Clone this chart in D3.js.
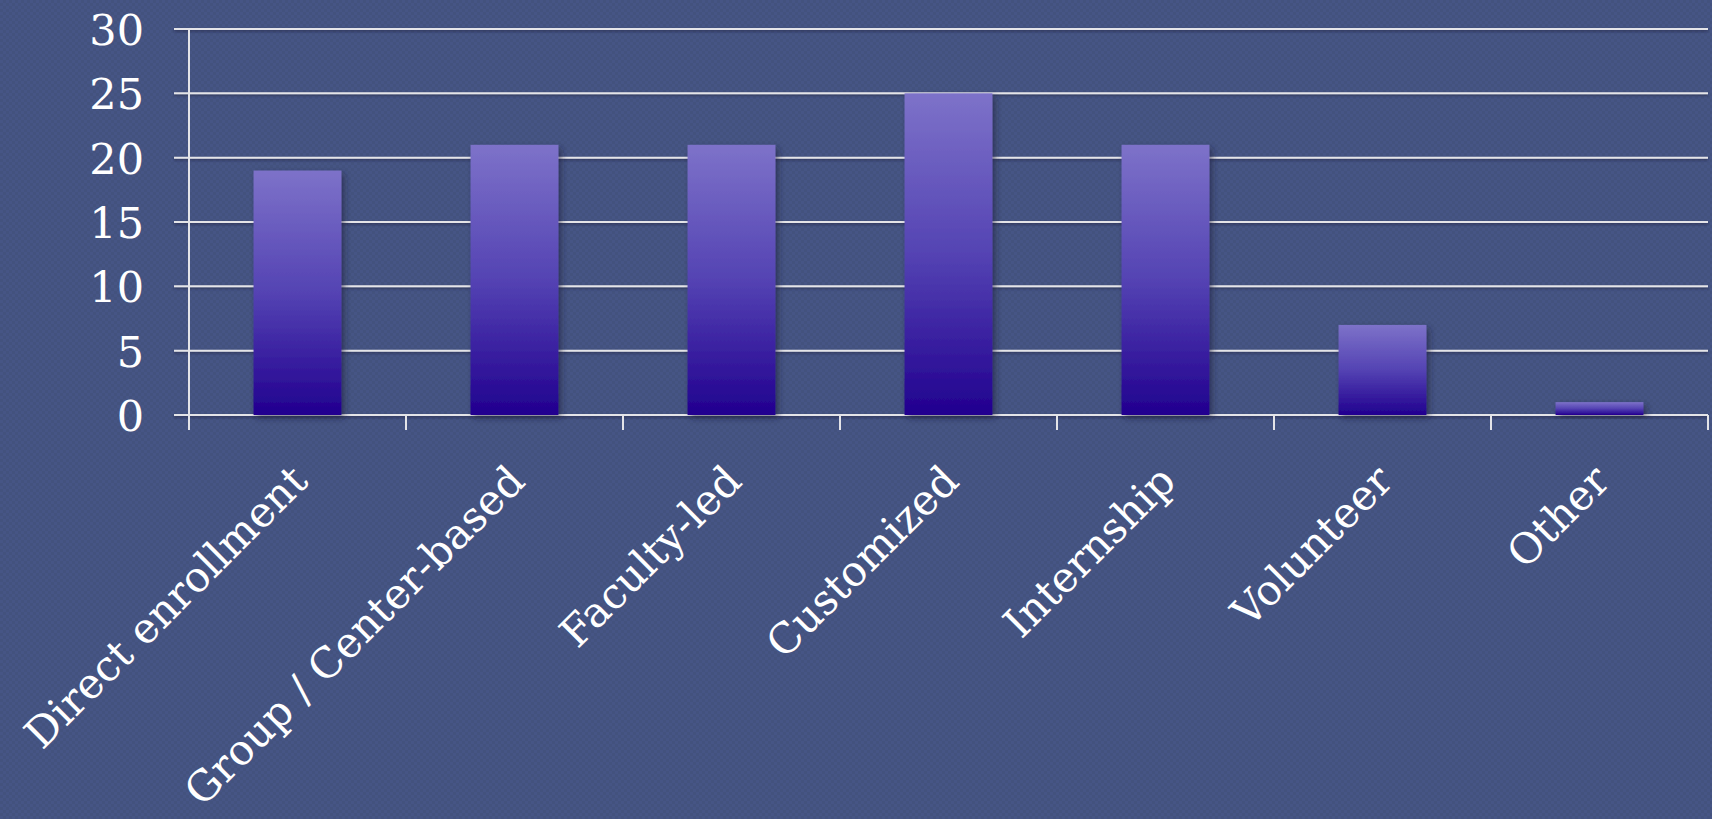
<!DOCTYPE html>
<html><head><meta charset="utf-8">
<script src="https://cdn.jsdelivr.net/npm/d3@7"></script>
<style>html,body{margin:0;padding:0;background:#44537f;overflow:hidden}</style>
</head><body><svg id="chart" width="1712" height="819"></svg>
<script>
const categories = ["Direct enrollment","Group / Center-based","Faculty-led","Customized","Internship","Volunteer","Other"];
const values = [19,21,21,25,21,7,1];
const yTicks = [0,5,10,15,20,25,30];

const W = 1712, H = 819;
const mLeft = 189, mRight = 1708, mTop = 29, mBottom = 415;
const svg = d3.select("#chart");
const defs = svg.append("defs");

const pat = defs.append("pattern").attr("id","bgpat").attr("width",6).attr("height",6).attr("patternUnits","userSpaceOnUse");
pat.append("rect").attr("width",6).attr("height",6).attr("fill","#43527e");
pat.append("rect").attr("width",3).attr("height",3).attr("fill","#47568a").attr("opacity",0.6);
pat.append("rect").attr("x",3).attr("y",3).attr("width",3).attr("height",3).attr("fill","#47568a").attr("opacity",0.6);

const grad = defs.append("linearGradient").attr("id","barGrad").attr("x1",0).attr("y1",0).attr("x2",0).attr("y2",1);
grad.append("stop").attr("offset","0%").attr("stop-color","#7d72c9");
grad.append("stop").attr("offset","50%").attr("stop-color","#5443b3");
grad.append("stop").attr("offset","100%").attr("stop-color","#21008f");

const sh = defs.append("filter").attr("id","shadow").attr("x","-20%").attr("y","-20%").attr("width","150%").attr("height","150%");
sh.append("feDropShadow").attr("dx",3).attr("dy",3).attr("stdDeviation",3).attr("flood-color","#1a1f3a").attr("flood-opacity",0.55);

const lsh = defs.append("filter").attr("id","lshadow").attr("filterUnits","userSpaceOnUse").attr("x",0).attr("y",0).attr("width",W).attr("height",H);
lsh.append("feDropShadow").attr("dx",0).attr("dy",1.5).attr("stdDeviation",0.8).attr("flood-color","#1a1f3a").attr("flood-opacity",0.6);

svg.append("rect").attr("width",W).attr("height",H).attr("fill","url(#bgpat)");

const x = d3.scaleBand().domain(categories).range([mLeft,mRight]).padding(0);
const y = d3.scaleLinear().domain([0,30]).range([mBottom,mTop]);

// gridlines
svg.append("g").attr("filter","url(#lshadow)").selectAll("line").data(yTicks).join("line")
  .attr("x1",mLeft-15).attr("x2",mRight).attr("y1",d=>y(d)).attr("y2",d=>y(d))
  .attr("stroke","#e4e4e8").attr("stroke-width",2);

// y axis line
svg.append("line").attr("x1",mLeft).attr("x2",mLeft).attr("y1",mTop).attr("y2",mBottom+15)
  .attr("stroke","#e4e4e8").attr("stroke-width",2);

// x ticks at band boundaries
const bounds = categories.map(c=>x(c)).concat([x(categories[categories.length-1])+x.bandwidth()]);
svg.append("g").selectAll("line").data(bounds.slice(1)).join("line")
  .attr("x1",d=>d).attr("x2",d=>d).attr("y1",mBottom).attr("y2",mBottom+15)
  .attr("stroke","#e4e4e8").attr("stroke-width",2);

// bars
const bw = x.bandwidth()*0.405;
svg.append("g").selectAll("rect").data(values).join("rect")
  .attr("x",(d,i)=>x(categories[i])+x.bandwidth()/2-bw/2)
  .attr("width",bw)
  .attr("y",d=>y(d))
  .attr("height",d=>y(0)-y(d))
  .attr("fill","url(#barGrad)")
  .attr("filter","url(#shadow)");

// y labels
const yAxis = d3.axisLeft(y).tickValues(yTicks).tickSize(0).tickPadding(0);
const ya = svg.append("g").attr("transform",`translate(144,0)`).call(yAxis);
ya.select(".domain").remove();
ya.selectAll("text").attr("font-family","'DejaVu Serif', serif").attr("font-size",43).attr("fill","#ffffff").attr("dy","0.36em");

// x labels
svg.append("g").selectAll("text").data(categories).join("text")
  .attr("transform",d=>`translate(${x(d)+x.bandwidth()/2-9},${462}) rotate(-45)`)
  .attr("text-anchor","end").attr("dy","0.72em")
  .attr("font-family","'DejaVu Serif', serif").attr("font-size",42).attr("fill","#ffffff")
  .text(d=>d);
</script></body></html>
